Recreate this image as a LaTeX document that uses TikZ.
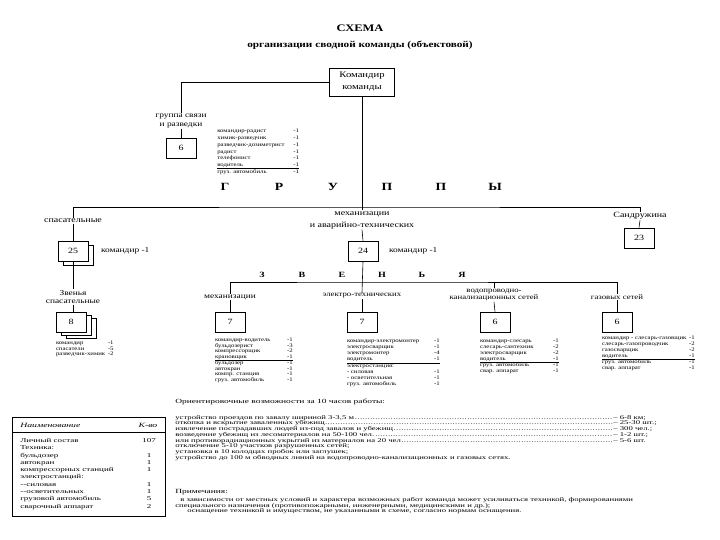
\documentclass[tikz,border=0pt]{standalone}
\usepackage{fontspec}
\setmainfont[FakeStretch=1.25]{Liberation Serif}
\newfontfamily\widefont[FakeStretch=1.5]{Liberation Serif}
\usetikzlibrary{positioning}

\tikzset{
  box/.style={draw, fill=white, minimum width=30pt, minimum height=20pt, inner sep=1pt, font=\fontsize{8}{9}\selectfont},
  lbl/.style={align=center, inner sep=0.5pt, font=\fontsize{7.5}{8.5}\selectfont},
  big/.style={inner sep=0pt, font=\bfseries\fontsize{11}{12}\selectfont},
  small/.style={inner sep=0pt, font=\bfseries\fontsize{8}{9}\selectfont},
  lst/.style={anchor=north west, inner sep=0pt, font=\fontsize{5.4}{5.6}\selectfont},
  txt/.style={anchor=north west, inner sep=0pt, align=left, font=\widefont\fontsize{5.8}{5.7}\selectfont},
}
\newcommand{\crew}[2]{\setlength{\tabcolsep}{0pt}\setlength{\arrayrulewidth}{0.6pt}%
  \begin{tabular}{@{}p{#1}@{}r@{}}#2\end{tabular}}
\newcommand{\dotline}[2]{\makebox[438pt][l]{#1\dotfill}#2}

\begin{document}
\begin{tikzpicture}[x=1pt, y=-1pt, line width=0.6pt]
\fill[white] (0,0) rectangle (720,540);
\useasboundingbox (0,0) rectangle (720,540);

% title
\node[font=\bfseries\fontsize{10}{11}\selectfont] (title) at (360,28) {СХЕМА};
\node[font=\bfseries\fontsize{9}{10}\selectfont] (subtitle) at (360,45) {организации сводной команды (объектовой)};

% commander
\node[box, minimum width=65pt, minimum height=28pt, align=center, font=\fontsize{8.5}{12}\selectfont] (cmd) at (362,82) {Командир\\команды};

% group of communication
\node[lbl] (gl) at (181,121) {группа связи\\и разведки};
\node[box] (gb) at (181,148) {6};
\node[lst, font=\fontsize{5.4}{6.7}\selectfont] (gls) at (217,128) {\crew{76pt}{командир-радист & -1\\химик-разведчик & -1\\разведчик-дозиметрист & -1\\радист & -1\\телефонист & -1\\водитель & -1\\\hline груз. автомобиль & -1}};

\foreach \ch [count=\i] in {Г,Р,У,П,П,Ы}
  \node[big] (gr\i) at ({171+54*\i},187) {\ch};

% groups
\coordinate (bar) at (362,207);
\node[lbl, font=\fontsize{8}{9}\selectfont] (lsp) at (73,221) {спасательные};
\node[lbl, font=\fontsize{8}{12}\selectfont] (ma) at (362,220) {механизации\\и аварийно-технических};
\node[lbl, font=\fontsize{8}{9}\selectfont] (sd) at (640,216) {Сандружина};

\node[box] (b25s) at (78,255) {};
\node[box] (b25) at (73,251) {25};
\node[lbl, right=12pt of b25] (c25) {командир -1};
\node[box] (b24) at (363,251) {24};
\node[lbl, right=10pt of b24] (c24) {командир -1};
\node[box] (b23) at (639,238) {23};

\draw (cmd.west) -| (gl.north);
\draw (gl.south) -- (gb.north);
\draw (cmd.south) -- (bar);
\draw (lsp.north) |- (bar) -| (sd.north);
\draw (bar) -- (ma.north);
\draw (lsp.south) -- (b25.north);
\draw (ma.south) -- (b24.north);
\draw (sd.south) -- (b23.north);

% rescue links
\node[lbl] (zl) at (73,297) {Звенья\\спасательные};
\node[box] (b8c) at (81,328) {};
\node[box] (b8b) at (76,325) {};
\node[box] (b8) at (71,322) {8};
\draw (b25.south) -- (zl.north);
\draw (zl.south) -- (zl.south |- b8.north);
\node[below=8pt of b8.south west, lst] (l8) {\crew{52pt}{командир & -1\\спасатели & -5\\разведчик-химик & -2}};

% links of box 24
\foreach \ch [count=\i] in {З,В,Е,Н,Ь,Я}
  \node[small] (zv\i) at ({222+40*\i},275) {\ch};

\coordinate (zbar) at (362,282);
\node[lbl] (m1) at (230,297) {механизации};
\node[lbl, font=\fontsize{7}{8}\selectfont] (m2) at (362,296) {электро-технических};
\node[lbl, font=\fontsize{7}{7.5}\selectfont] (m3) at (494,295) {водопроводно-\\канализационных сетей};
\node[lbl, font=\fontsize{7}{8}\selectfont] (m4) at (617,297) {газовых сетей};
\draw (m1.north) |- (zbar) -| (m4.north);
\draw (b24.south) -- (m2.north);
\draw (m3.north) -- (m3.north |- zbar);

\node[box] (k1) at (230,322) {7};
\node[box] (k2) at (362,322) {7};
\node[box] (k3) at (495,322) {6};
\node[box] (k4) at (617,322) {6};
\foreach \i in {1,...,4}
  \draw (m\i.south) -- (k\i.north);

\node[below=5pt of k1.south west, lst] (lk1) {\crew{72pt}{командир-водитель & -1\\бульдозерист & -3\\компрессорщик & -2\\крановщик & -1\\\hline бульдозер & -1\\автокран & -1\\компр. станция & -1\\груз. автомобиль & -1}};
\node[below=6pt of k2.south west, lst, font=\fontsize{5.4}{6}\selectfont] (lk2) {\crew{87pt}{командир-электромонтер & -1\\электросварщик & -1\\электромонтер & -4\\водитель & -1\\\hline электростанция: & \\- силовая & -1\\- осветительная & -1\\груз. автомобиль & -1}};
\node[below=6pt of k3.south west, lst, font=\fontsize{5.4}{5.8}\selectfont] (lk3) {\crew{73pt}{командир-слесарь & -1\\слесарь-сантехник & -2\\электросварщик & -2\\водитель & -1\\\hline груз. автомобиль & -1\\свар. аппарат & -1}};
\node[below=3pt of k4.south west, lst, font=\fontsize{5.4}{5.8}\selectfont] (lk4) {\crew{87pt}{командир - слесарь-газовщик & -1\\слесарь-газопроводчик & -2\\газосварщик & -2\\водитель & -1\\\hline груз. автомобиль & -1\\свар. аппарат & -1}};

% table
\node[draw, minimum width=153pt, minimum height=99pt, anchor=north west, inner sep=0pt] (tbl) at (12,417) {};
\coordinate (th) at (0,432);
\draw (tbl.west |- th) -- (tbl.east |- th);
\node[anchor=west, inner sep=0pt, font=\widefont\itshape\fontsize{6.5}{7}\selectfont] (thn) at (20,425) {Наименование};
\node[inner sep=0pt, font=\widefont\itshape\fontsize{6.5}{7}\selectfont] (thq) at (148,425) {К-во};
\node[anchor=north west, inner sep=0pt, font=\widefont\fontsize{6}{7.3}\selectfont] (tb) at (20,437) {\setlength{\tabcolsep}{0pt}\begin{tabular}{@{}p{122pt}@{}c@{}}
Личный состав & 107\\
Техника: & \\
бульдозер & 1\\
автокран & 1\\
компрессорных станций & 1\\
электростанций: & \\
--силовая & 1\\
--осветительных & 1\\
грузовой автомобиль & 5\\
сварочный аппарат & 2\end{tabular}};

% abilities
\node[anchor=west, inner sep=0pt, font=\widefont\fontsize{6.3}{7}\selectfont] (abh) at (175,402) {Ориентировочные возможности за 10 часов работы:};
\node[txt] (ab) at (175,415) {\dotline{устройство проездов по завалу шириной 3-3,5 м}{– 6-8 км;}\\
\dotline{откопка и вскрытие заваленных убежищ}{– 25-30 шт.;}\\
\dotline{извлечение пострадавших людей из-под завалов и убежищ}{– 300 чел.;}\\
\dotline{возведение убежищ из лесоматериалов на 50-100 чел.}{– 1-2 шт.;}\\
\dotline{или противорадиационных укрытий из материалов на 20 чел}{– 5-6 шт.}\\
отключение 5-10 участков разрушенных сетей;\\
установка в 10 колодцах пробок или заглушек;\\
устройство до 100 м обводных линий на водопроводно-канализационных и газовых сетях.};

\node[anchor=west, inner sep=0pt, font=\widefont\fontsize{6.3}{7}\selectfont] (nth) at (175,492) {Примечания:};
\node[txt] (nt) at (175,497) {\hspace*{5pt}в зависимости от местных условий и характера возможных работ команда может усиливаться техникой, формированиями\\
специального назначения (противопожарными, инженерными, медицинскими и др.);\\
\hspace*{12pt}оснащение техникой и имуществом, не указанными в схеме, согласно нормам оснащения.};
\end{tikzpicture}
\end{document}
